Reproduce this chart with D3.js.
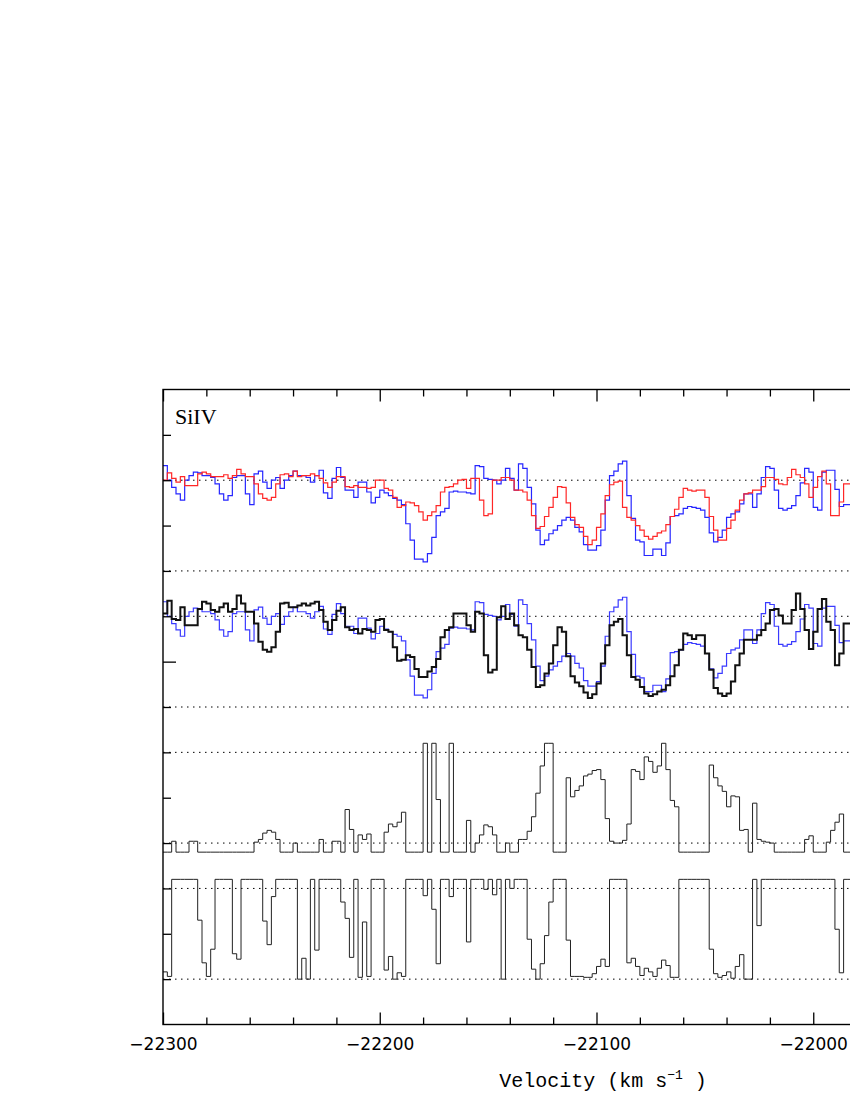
<!DOCTYPE html>
<html>
<head>
<meta charset="utf-8">
<script src="https://cdn.jsdelivr.net/npm/d3@7"></script>
<style>
  body { margin: 0; background: #fff; }
  svg { display: block; }
</style>
</head>
<body>
<svg id="chart"></svg>
<script>
// velocity bins: 2 km/s wide, starting at -22300
const binStart = -22300;
const binWidth = 2;

const majorTicks = [-22300, -22200, -22100, -22000, -21900];
const lineLabel = "SiIV";

// panel 1 & 2: blue spectrum (shared)
const blueFlux = [
  1.16, 1.00, 0.92, 0.85, 0.78, 1.00, 1.05, 1.09, 1.08, 1.05,
  1.05, 1.03, 0.96, 0.85, 0.78, 0.83, 1.03, 1.05, 1.05, 0.85,
  0.73, 1.07, 1.10, 0.98, 0.91, 1.00, 1.03, 0.91, 1.00, 1.05,
  1.10, 1.05, 1.05, 1.03, 0.98, 1.05, 1.11, 0.86, 0.80, 1.02,
  1.14, 1.03, 0.89, 0.89, 0.81, 0.98, 0.98, 0.87, 0.75, 0.81,
  0.89, 0.86, 0.83, 0.80, 0.78, 0.73, 0.52, 0.34, 0.13, 0.13,
  0.10, 0.19, 0.37, 0.61, 0.65, 0.69, 0.87, 0.88, 0.87, 0.87,
  0.86, 0.85, 1.16, 1.15, 1.02, 1.01, 1.00, 0.96, 1.00, 1.13,
  1.02, 0.89, 1.18, 1.13, 0.92, 0.74, 0.45, 0.29, 0.34, 0.41,
  0.45, 0.50, 0.56, 0.59, 0.56, 0.48, 0.43, 0.29, 0.23, 0.23,
  0.28, 0.45, 0.78, 1.05, 1.10, 1.18, 1.21, 0.83, 0.58, 0.34,
  0.32, 0.17, 0.17, 0.24, 0.24, 0.17, 0.31, 0.60, 0.61, 0.63,
  0.69, 0.71, 0.70, 0.69, 0.67, 0.59, 0.42, 0.32, 0.37, 0.45,
  0.59, 0.63, 0.65, 0.74, 0.85, 0.85, 0.70, 0.85, 1.03, 1.15,
  1.13, 0.89, 0.69, 0.67, 0.69, 0.72, 0.83, 0.97, 1.13, 1.09,
  0.70, 0.67, 1.09, 1.11, 1.11, 0.90, 0.71, 0.73, 0.73
];

// panel 1: red spectrum
const redFlux = [
  1.00, 1.08, 1.02, 0.98, 1.04, 0.94, 0.94, 0.94, 1.07, 1.09,
  1.07, 1.04, 1.04, 1.04, 1.06, 1.02, 1.05, 1.12, 1.07, 1.04,
  1.04, 0.96, 0.85, 0.80, 0.78, 0.81, 0.96, 1.06, 1.07, 1.04,
  1.10, 1.04, 1.05, 1.05, 1.07, 1.05, 1.02, 0.97, 0.92, 0.98,
  1.04, 1.04, 0.93, 0.92, 0.94, 0.92, 0.92, 0.91, 0.92, 1.00,
  1.00, 0.91, 0.89, 0.81, 0.70, 0.72, 0.76, 0.75, 0.72, 0.65,
  0.56, 0.61, 0.65, 0.72, 0.87, 0.92, 0.93, 0.96, 1.00, 1.01,
  0.91, 1.02, 1.02, 0.78, 0.61, 0.63, 1.00, 1.00, 1.03, 1.03,
  1.00, 0.89, 0.89, 0.87, 0.78, 0.61, 0.47, 0.49, 0.60, 0.70,
  0.81, 0.93, 0.92, 0.75, 0.59, 0.51, 0.48, 0.38, 0.29, 0.34,
  0.48, 0.63, 0.83, 0.95, 0.98, 0.99, 0.70, 0.59, 0.56, 0.50,
  0.45, 0.38, 0.35, 0.38, 0.42, 0.44, 0.51, 0.60, 0.68, 0.81,
  0.91, 0.89, 0.88, 0.89, 0.89, 0.81, 0.60, 0.45, 0.34, 0.34,
  0.47, 0.56, 0.67, 0.78, 0.85, 0.86, 0.89, 0.89, 0.93, 1.03,
  1.03, 1.01, 0.96, 0.95, 1.03, 1.12, 1.06, 1.03, 0.96, 0.81,
  0.92, 1.04, 1.10, 0.96, 0.61, 0.61, 0.76, 0.96, 0.96
];

// panel 2: black spectrum
const blackFlux = [
  1.03, 1.17, 0.97, 0.96, 1.10, 0.90, 0.90, 0.90, 1.08, 1.16,
  1.14, 1.07, 1.05, 1.10, 1.14, 1.05, 1.08, 1.23, 1.14, 1.05,
  1.05, 0.92, 0.72, 0.63, 0.61, 0.66, 0.83, 1.14, 1.15, 1.10,
  1.10, 1.12, 1.14, 1.12, 1.14, 1.16, 1.07, 0.94, 0.85, 0.96,
  1.06, 1.10, 0.88, 0.85, 0.86, 0.81, 0.86, 0.85, 0.83, 0.96,
  0.97, 0.85, 0.83, 0.66, 0.51, 0.52, 0.57, 0.55, 0.42, 0.33,
  0.33, 0.39, 0.44, 0.53, 0.77, 0.85, 0.88, 1.03, 1.03, 1.03,
  0.90, 0.83, 1.05, 1.03, 0.57, 0.38, 0.41, 0.99, 1.11, 0.97,
  1.03, 0.90, 0.79, 0.77, 0.63, 0.44, 0.22, 0.24, 0.37, 0.48,
  0.68, 0.88, 0.83, 0.56, 0.34, 0.27, 0.23, 0.16, 0.10, 0.14,
  0.26, 0.48, 0.68, 0.90, 0.94, 0.97, 0.79, 0.57, 0.33, 0.30,
  0.22, 0.15, 0.12, 0.14, 0.17, 0.19, 0.24, 0.34, 0.46, 0.63,
  0.81, 0.79, 0.75, 0.79, 0.79, 0.59, 0.41, 0.21, 0.15, 0.12,
  0.15, 0.28, 0.46, 0.59, 0.74, 0.74, 0.74, 0.79, 0.85, 0.92,
  1.07, 1.08, 1.01, 0.92, 0.92, 1.07, 1.25, 1.08, 0.85, 0.64,
  0.83, 1.08, 1.19, 0.94, 0.85, 0.46, 0.59, 0.92, 0.92
];

// panel 3 (clipped to -0.1 .. 1.1)
const panel3Values = [
  -0.1, -0.1, 0.02, -0.1, -0.1, -0.1, 0.02, 0.02, -0.1, -0.1,
  -0.1, -0.1, -0.1, -0.1, -0.1, -0.1, -0.1, -0.1, -0.1, -0.1,
  -0.1, 0.01, 0.04, 0.11, 0.14, 0.12, 0.04, -0.1, -0.1, -0.1,
  0.00, -0.1, -0.1, -0.1, -0.1, -0.1, 0.04, -0.1, -0.1, 0.02,
  0.02, -0.1, 0.37, 0.15, -0.1, 0.09, 0.04, 0.10, -0.1, -0.1,
  -0.1, 0.12, 0.21, 0.18, 0.23, 0.34, -0.1, -0.1, -0.1, -0.1,
  1.1, -0.1, 1.1, 0.48, -0.1, -0.1, 1.1, -0.1, -0.1, -0.1,
  0.25, -0.1, 0.00, 0.09, 0.20, 0.18, 0.09, -0.1, -0.1, 0.00,
  -0.1, -0.1, 0.04, 0.04, 0.13, 0.29, 0.55, 0.85, 1.1, 1.1,
  -0.1, -0.1, -0.1, 0.72, 0.51, 0.58, 0.63, 0.74, 0.76, 0.80,
  0.81, 0.70, 0.27, 0.02, 0.00, 0.00, 0.03, 0.21, 0.81, 0.79,
  0.70, 0.95, 0.90, 0.78, 0.85, 1.1, 0.81, 0.47, 0.40, -0.1,
  -0.1, -0.1, -0.1, -0.1, -0.1, -0.1, 0.86, 0.72, 0.63, 0.57,
  0.40, 0.52, 0.51, 0.14, 0.15, -0.1, 0.44, 0.04, 0.02, 0.01,
  0.00, -0.1, -0.1, -0.1, -0.1, -0.1, -0.1, -0.1, 0.04, 0.08,
  -0.1, -0.1, -0.1, 0.01, 0.14, 0.23, 0.32, -0.1, -0.1
];

// panel 4 (clipped to 0 .. 1.1)
const panel4Values = [
  0.08, 0.03, 1.1, 1.1, 1.1, 1.1, 1.1, 1.1, 0.65, 0.18,
  0.03, 0.33, 1.1, 1.1, 1.1, 1.1, 0.28, 0.22, 1.1, 1.1,
  1.1, 1.1, 1.1, 0.64, 0.38, 0.91, 1.1, 1.1, 1.1, 1.1,
  1.1, 0.00, 0.23, 0.00, 1.1, 0.32, 1.1, 1.1, 1.1, 1.1,
  1.1, 0.85, 0.67, 0.24, 1.1, 0.02, 0.63, 0.03, 1.1, 1.1,
  1.1, 0.10, 0.25, 0.00, 0.07, 0.03, 1.1, 1.1, 1.1, 1.1,
  0.92, 1.1, 0.77, 0.17, 1.1, 1.1, 0.91, 1.1, 1.1, 1.1,
  0.41, 1.1, 1.1, 1.1, 0.99, 1.1, 0.93, 1.1, 0.00, 1.1,
  1.00, 1.1, 1.1, 1.1, 0.44, 0.11, 0.00, 0.17, 0.48, 0.85,
  1.1, 1.1, 1.1, 0.43, 0.03, 0.03, 0.03, 0.02, 0.02, 0.06,
  0.14, 0.22, 0.14, 1.1, 1.1, 1.1, 1.1, 0.18, 0.23, 0.14,
  0.04, 0.12, 0.08, 0.03, 0.12, 0.21, 0.15, 0.02, 0.02, 1.1,
  1.1, 1.1, 1.1, 1.1, 1.1, 1.1, 0.33, 0.06, 0.02, 0.04,
  0.08, 0.01, 0.14, 0.27, 0.00, 0.00, 1.1, 0.59, 1.1, 1.1,
  1.1, 1.1, 1.1, 1.1, 1.1, 1.1, 1.1, 1.1, 1.1, 1.1,
  1.1, 1.1, 1.1, 1.1, 1.1, 0.55, 0.07, 1.1, 1.1
];

const width = 850, height = 1100;
const frame = {left: 163, right: 1030, top: 389.5, bottom: 1024.5};
const panelStep = 1.5;   // vertical offset between panels, in flux units

const svg = d3.select('#chart')
    .attr('width', width)
    .attr('height', height);

svg.append('rect').attr('width', width).attr('height', height).attr('fill', '#fff');

const x = d3.scaleLinear()
    .domain([-22300, -21900])
    .range([frame.left, frame.right]);

// whole frame spans flux 2 (top) to -5 (bottom); panel k sits at offset -1.5k
const y = d3.scaleLinear()
    .domain([-5, 2])
    .range([frame.bottom, frame.top]);

const minorTicks = d3.range(-22300, -21899, 20).filter(d => !majorTicks.includes(d));
// only the labels whose tick lies on the page are written
const labelledTicks = majorTicks.filter(d => x(d) < width);

// dotted reference lines (flux 1 and flux 0 for each panel)
const refLevels = [];
for (let k = 0; k < 4; k++) {
  refLevels.push(1 - panelStep * k, -panelStep * k);
}
svg.append('g')
    .selectAll('line')
    .data(refLevels)
    .enter()
    .append('line')
    .attr('x1', frame.left)
    .attr('x2', frame.right)
    .attr('y1', d => y(d))
    .attr('y2', d => y(d))
    .attr('stroke', '#000')
    .attr('stroke-width', 1)
    .attr('stroke-dasharray', '1.5,4.5');

function stepLine(values, panel) {
  const pts = values.map((v, i) => [binStart + i * binWidth, v - panelStep * panel]);
  pts.push([binStart + values.length * binWidth, values[values.length - 1] - panelStep * panel]);
  return d3.line()
      .x(d => x(d[0]))
      .y(d => y(d[1]))
      .curve(d3.curveStepAfter)(pts);
}

const plot = svg.append('g');

plot.append('path').attr('d', stepLine(blueFlux, 0))
    .attr('fill', 'none').attr('stroke', '#2626ff').attr('stroke-width', 1.2);
plot.append('path').attr('d', stepLine(redFlux, 0))
    .attr('fill', 'none').attr('stroke', '#ff2626').attr('stroke-width', 1.2);

plot.append('path').attr('d', stepLine(blueFlux, 1))
    .attr('fill', 'none').attr('stroke', '#3a3aff').attr('stroke-width', 1.2);
plot.append('path').attr('d', stepLine(blackFlux, 1))
    .attr('fill', 'none').attr('stroke', '#111').attr('stroke-width', 2);

plot.append('path').attr('d', stepLine(panel3Values, 2))
    .attr('fill', 'none').attr('stroke', '#222').attr('stroke-width', 1);
plot.append('path').attr('d', stepLine(panel4Values, 3))
    .attr('fill', 'none').attr('stroke', '#222').attr('stroke-width', 1);

// axes
function styleAxis(g) {
  g.select('.domain').remove();
  g.selectAll('line').attr('stroke', '#000').attr('stroke-width', 1.3);
}

svg.append('g')
    .attr('transform', 'translate(0,' + frame.bottom + ')')
    .call(d3.axisBottom(x).tickValues(minorTicks).tickSize(-7).tickFormat(''))
    .call(styleAxis);
svg.append('g')
    .attr('transform', 'translate(0,' + frame.bottom + ')')
    .call(d3.axisBottom(x).tickValues(majorTicks).tickSize(-12).tickFormat(''))
    .call(styleAxis);
svg.append('g')
    .attr('transform', 'translate(0,' + frame.bottom + ')')
    .call(d3.axisBottom(x).tickValues(labelledTicks).tickSize(0).tickPadding(13)
        .tickFormat(d => '\u2212' + Math.abs(d)))
    .call(styleAxis)
    .selectAll('text')
    .attr('font-family', 'DejaVu Sans')
    .attr('font-size', 17)
    .attr('fill', '#000');

svg.append('g')
    .attr('transform', 'translate(0,' + frame.top + ')')
    .call(d3.axisTop(x).tickValues(minorTicks).tickSize(-7).tickFormat(''))
    .call(styleAxis);
svg.append('g')
    .attr('transform', 'translate(0,' + frame.top + ')')
    .call(d3.axisTop(x).tickValues(majorTicks).tickSize(-12).tickFormat(''))
    .call(styleAxis);

const yTicks = d3.range(-4.5, 2, 0.5);
svg.append('g')
    .attr('transform', 'translate(' + frame.left + ',0)')
    .call(d3.axisLeft(y).tickValues(yTicks.filter(d => d !== -1)).tickSize(-8).tickFormat(''))
    .call(styleAxis);
svg.append('g')
    .attr('transform', 'translate(' + frame.left + ',0)')
    .call(d3.axisLeft(y).tickValues([-1]).tickSize(-13).tickFormat(''))
    .call(styleAxis);

// frame
svg.append('rect')
    .attr('x', frame.left)
    .attr('y', frame.top)
    .attr('width', frame.right - frame.left)
    .attr('height', frame.bottom - frame.top)
    .attr('fill', 'none')
    .attr('stroke', '#000')
    .attr('stroke-width', 1.4);

// labels
svg.append('text')
    .attr('x', 175)
    .attr('y', 424)
    .attr('font-family', 'Liberation Serif')
    .attr('font-size', 22)
    .text(lineLabel);

const xlab = svg.append('text')
    .attr('x', 603)
    .attr('y', 1087)
    .attr('text-anchor', 'middle')
    .attr('font-family', 'Liberation Mono')
    .attr('font-size', 20);
xlab.append('tspan').text('Velocity (km s');
xlab.append('tspan').attr('font-size', 13).attr('dy', -8).text('\u22121');
xlab.append('tspan').attr('dy', 8).text(' )');
</script>
</body>
</html>
